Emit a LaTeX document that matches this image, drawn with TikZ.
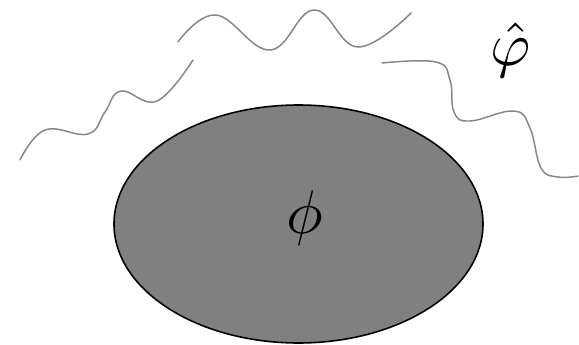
\documentclass[tikz,border=0pt]{standalone}
\usepackage{tikz}
\definecolor{blob}{RGB}{128,128,128}
\definecolor{wave}{RGB}{135,135,135}

\begin{document}
\begin{tikzpicture}[x=0.02cm,y=-0.02cm]
  \tikzset{waveline/.style={wave,line width=0.85pt,line cap=round}, sym/.style={inner sep=0,scale=3.5}}
  \useasboundingbox (0,0) rectangle (579,345);
  % the source
  \draw[line width=0.9pt,fill=blob] (298.5,224) ellipse [x radius=184.5, y radius=119];
  \node[sym] (phi) at (305,218) {$\phi$};
  % radiation
  \draw[waveline] plot[smooth,tension=0.7] coordinates {(20,160) (45,130) (88,134) (105,112) (121,91) (157,101) (193,60)};
  \draw[waveline] plot[smooth,tension=0.7] coordinates {(178,42) (216,15) (270,50) (314,10) (358,47) (411,13)};
  \draw[waveline] plot[smooth,tension=0.7] coordinates {(382,63) (436,62) (450,80) (454,112) (470,121) (514,111) (530,128) (541,168) (558,177) (578,176)};
  \node[sym] (phihat) at (511,50) {$\hat{\varphi}$};
\end{tikzpicture}
\end{document}
